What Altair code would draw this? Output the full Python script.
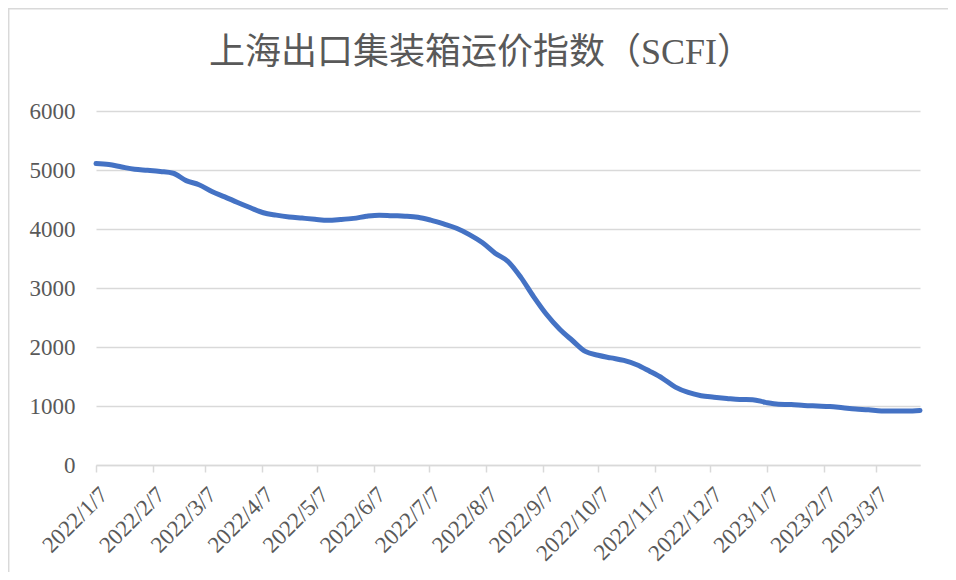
import altair as alt
import pandas as pd

title_text = "上海出口集装箱运价指数（SCFI）"

# weekly Friday publication dates, 2022/1/7 .. 2023/3/31
dates = pd.date_range("2022-01-07", periods=65, freq="7D").strftime("%Y-%m-%d").tolist()

scfi = [
    5109, 5092, 5050, 5012, 4995, 4975, 4945, 4820, 4750, 4635,
    4545, 4450, 4360, 4275, 4235, 4205, 4185, 4165, 4147, 4160,
    4180, 4215, 4235, 4225, 4218, 4200, 4150, 4085, 4012, 3905,
    3770, 3590, 3450, 3180, 2850, 2550, 2305, 2110, 1925, 1860,
    1815, 1772, 1700, 1590, 1470, 1320, 1230, 1175, 1150, 1128,
    1110, 1107, 1061, 1030, 1025, 1010, 1000, 990, 970, 950,
    935, 915, 916, 915, 925,
]

tick_months = [(2022, m) for m in range(1, 13)] + [(2023, 1), (2023, 2), (2023, 3)]
y_ticks = [0, 1000, 2000, 3000, 4000, 5000, 6000]

df = pd.DataFrame({"date": dates, "scfi": scfi})

W, H = 824, 354
PAD = {"left": 88, "top": 103, "right": 28, "bottom": 107}

x_enc = alt.X(
    "date:T",
    title=None,
    scale=alt.Scale(
        type="utc",
        domain=[alt.DateTime(year=2022, month=1, date=7, utc=True),
                alt.DateTime(year=2023, month=3, date=31, utc=True)],
        nice=False,
    ),
    axis=alt.Axis(
        values=[alt.DateTime(year=y, month=m, date=7, utc=True) for y, m in tick_months],
        labelExpr="utcFormat(datum.value, '%Y/%-m/%-d')",
        labelAngle=-45,
        labelAlign="right",
        labelBaseline="top",
        labelPadding=11,
        labelOverlap=False,
        labelFlush=False,
        grid=False,
        domain=True,
        domainColor="#D9D9D9",
        domainWidth=1.5,
        ticks=True,
        tickColor="#D9D9D9",
        tickWidth=1.5,
        tickSize=7,
    ),
)

y_enc = alt.Y(
    "scfi:Q",
    title=None,
    scale=alt.Scale(domain=[0, 6000], nice=False),
    axis=alt.Axis(
        values=y_ticks,
        format="d",
        domain=False,
        ticks=False,
        grid=True,
        gridColor="#D9D9D9",
        gridWidth=1.5,
        labelPadding=21,
    ),
)

line = alt.Chart(df).mark_line(
    color="#4472C4", strokeWidth=5, strokeCap="round", strokeJoin="round",
    interpolate="monotone",
).encode(x=x_enc, y=y_enc)

border = alt.Chart(alt.Data(values=[{"k": 1}])).mark_rect(
    fillOpacity=0, stroke="#D9D9D9", strokeWidth=1.5,
).encode(
    x=alt.value(-87.3), x2=alt.value(1000),
    y=alt.value(-102.3), y2=alt.value(600),
)

title = alt.Chart(alt.Data(values=[{"t": title_text}])).mark_text(
    font="'Liberation Serif', 'Noto Sans CJK SC'",
    fontSize=36,
    fontWeight="normal",
    color="#595959",
    align="center",
    baseline="middle",
).encode(
    text="t:N",
    x=alt.value(385),
    y=alt.value(-58),
)

chart = alt.layer(border, line, title).properties(
    width=W,
    height=H,
    autosize=alt.AutoSizeParams(type="none"),
    padding=PAD,
).configure_view(stroke=None).configure_axis(
    labelFont="Liberation Serif",
    labelFontSize=23,
    labelColor="#595959",
)

chart.save("out.html", embed_options={"renderer": "svg", "actions": False})
